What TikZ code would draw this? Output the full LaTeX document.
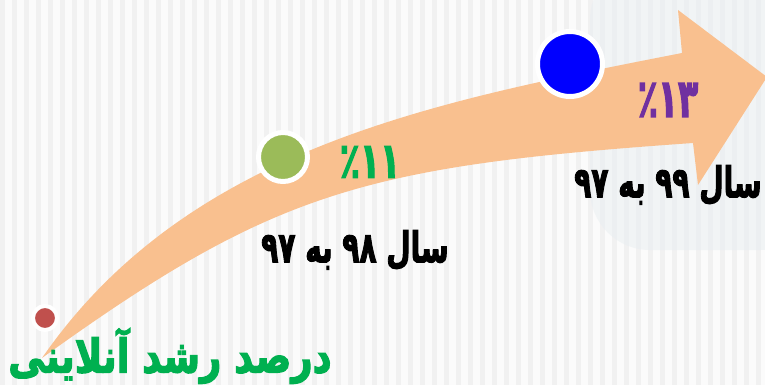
\documentclass[tikz,border=0pt]{standalone}
\usepackage{fontspec}
\usepackage{graphicx}
\usepackage{tikz}
\newfontfamily\arabicfont[Script=Arabic, BoldFont={* Bold}, BoldFeatures={FakeBold=3}]{DejaVu Sans}
\TeXXeTstate=1
\definecolor{arrowfill}{RGB}{249,192,143}
\definecolor{dotred}{RGB}{192,80,77}
\definecolor{dotgreen}{RGB}{155,187,89}
\definecolor{dotblue}{RGB}{0,0,255}
\definecolor{pctgreen}{RGB}{0,176,80}
\definecolor{pctpurple}{RGB}{112,48,160}
\definecolor{bgbase}{RGB}{251,251,251}
\definecolor{stripe}{RGB}{241,241,241}
\definecolor{panel}{RGB}{232,238,241}
\newcommand{\tallText}[2]{\scalebox{1}[#1]{#2}}
\tikzset{
  dot/.style={circle, draw=white, inner sep=0pt},
  pct/.style={font=\arabicfont\bfseries\fontsize{33}{36}\selectfont, inner sep=0pt},
  yearlabel/.style={font=\arabicfont\bfseries\fontsize{28}{34}\selectfont, text=black, inner sep=0pt},
  titlelabel/.style={font=\arabicfont\bfseries\fontsize{37}{42}\selectfont, text=pctgreen, inner sep=0pt}
}

\begin{document}
\begin{tikzpicture}[x=1pt,y=-1pt]
\clip (0,0) rectangle (765,385);
\fill[bgbase] (0,0) rectangle (765,385);
\foreach \i in {0,12,...,760}
  \fill[stripe] (\i,0) rectangle +(5,385);
\fill[panel, opacity=0.5, rounded corners=60pt] (590,-40) rectangle (820,250);

% the rising arrow
\fill[arrowfill] (42,358) .. controls (188,147) and (437,101) .. (682,53)
  -- (678,10) -- (767,77) -- (698,185) -- (693,143)
  .. controls (364,166) and (274,191) .. (42,358) -- cycle;

% points on the arrow
\node[dot, fill=dotred, line width=4pt, minimum size=24pt] (start) at (45,318) {};
\node[dot, fill=dotgreen, line width=5pt, minimum size=49pt] (y98) at (283,157) {};
\node[dot, fill=dotblue, line width=5pt, minimum size=65pt] (y99) at (570,64) {};

% values
\node[pct, text=pctgreen] (p11) at (370,162) {\tallText{1.5}{٪۱۱}};
\node[pct, text=pctpurple] (p13) at (668,100) {\tallText{1.6}{٪۱۳}};

\node[yearlabel] (l98) at (355,250) {\tallText{1.5}{\beginR سال \beginL۹۸\endL{} به \beginL۹۷\endL\endR}};
\node[yearlabel] (l99) at (668,185) {\tallText{1.5}{\beginR سال \beginL۹۹\endL{} به \beginL۹۷\endL\endR}};

\node[titlelabel] (title) at (170,356) {\tallText{1.25}{\beginR درصد رشد آنلاینی\endR}};
\end{tikzpicture}
\end{document}
